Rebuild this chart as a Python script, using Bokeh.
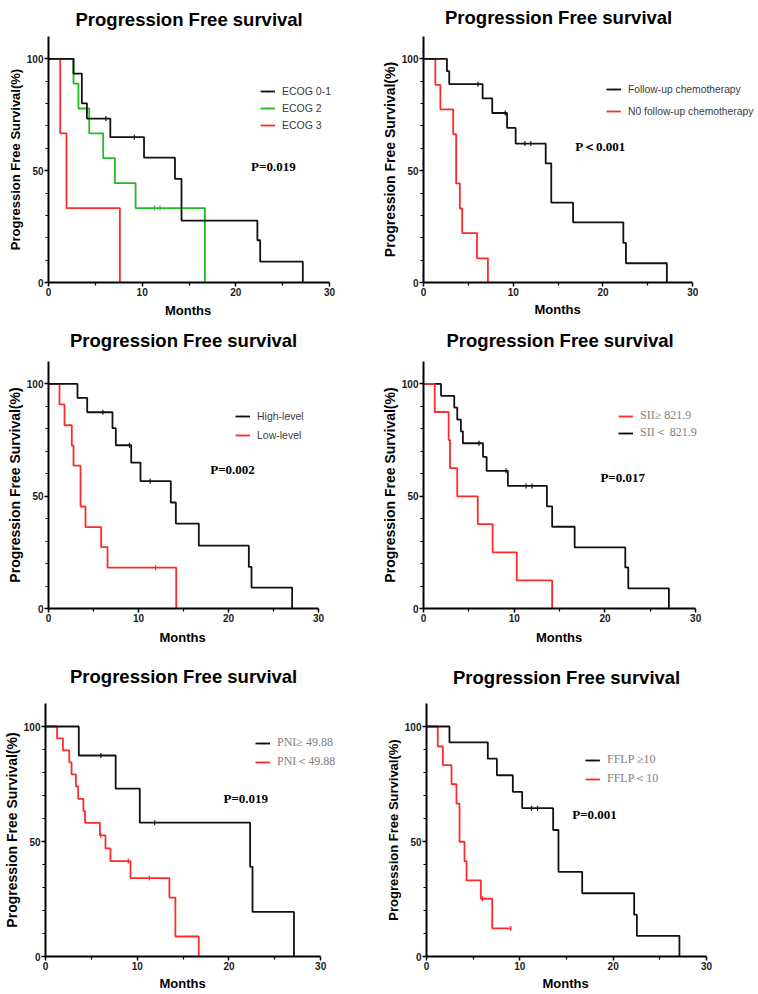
import numpy as np
from bokeh.plotting import figure
from bokeh.models import Range1d, FixedTicker, Legend, LegendItem, Label, ColumnDataSource, Title
from bokeh.layouts import row, column
from bokeh.embed import file_html
from bokeh.resources import INLINE

# ---------------- texts / ticks ----------------
TITLE = "Progression Free survival"
X_LABEL = "Months"
Y_LABEL = "Progression Free Survival(%)"
X_TICKS = [0, 10, 20, 30]
X_MINOR = [5, 15, 25]
Y_TICKS = [0, 50, 100]
Y_MINOR = [10, 20, 30, 40, 60, 70, 80, 90]
X_MAX = 30
Y_MAX = 110

# ---------------- panel 1 : ECOG ----------------
ecog01_t = [0, 2.67, 3.56, 4.10, 6.60, 10.20, 13.50, 14.20, 22.30, 22.60, 27.15]
ecog01_s = [100, 93.4, 80.1, 73.3, 65.0, 55.8, 46.3, 27.7, 18.9, 9.3, 0]
ecog01_ct = [6.13, 9.16]
ecog01_cs = [73.3, 65.0]
ecog2_t = [0, 2.67, 3.20, 4.35, 5.84, 7.09, 9.30, 16.70]
ecog2_s = [100, 88.9, 77.8, 66.7, 55.6, 44.4, 33.3, 0]
ecog2_ct = [11.30, 11.90]
ecog2_cs = [33.3, 33.3]
ecog3_t = [0, 1.25, 1.92, 7.62]
ecog3_s = [100, 66.7, 33.3, 0]
ecog3_ct = []
ecog3_cs = []
p1_value = "P=0.019"

# ---------------- panel 2 : follow-up chemotherapy ----------------
fu_t = [0, 2.61, 2.87, 6.59, 7.66, 9.31, 10.27, 13.62, 14.24, 16.67, 22.27, 22.56, 27.12]
fu_s = [100, 94.5, 88.7, 82.3, 75.8, 69.1, 62.1, 53.3, 35.7, 26.9, 17.7, 8.6, 0]
fu_ct = [6.07, 9.10, 11.30, 11.96]
fu_cs = [88.7, 75.8, 62.1, 62.1]
nofu_t = [0, 1.32, 1.88, 3.31, 3.64, 4.05, 4.31, 5.96, 7.18]
nofu_s = [100, 88.4, 77.4, 66.3, 44.3, 33.1, 22.1, 10.8, 0]
nofu_ct = []
nofu_cs = []
p2_value = "P＜0.001"

# ---------------- panel 3 : high / low level ----------------
high_t = [0, 3.22, 4.30, 7.11, 7.48, 9.19, 10.22, 13.59, 14.15, 16.70, 22.26, 22.56, 27.07]
high_s = [100, 93.8, 87.4, 80.3, 72.7, 65.0, 56.7, 47.2, 37.8, 28.0, 18.5, 9.3, 0]
high_ct = [6.04, 9.00, 11.30]
high_cs = [87.4, 72.7, 56.7]
low_t = [0, 1.22, 1.78, 2.59, 2.78, 3.56, 4.11, 5.85, 6.56, 14.19]
low_s = [100, 90.9, 81.6, 72.6, 63.6, 45.4, 36.2, 27.3, 18.2, 0]
low_ct = [11.90]
low_cs = [18.2]
p3_value = "P=0.002"

# ---------------- panel 4 : SII ----------------
siihi_t = [0, 1.24, 2.77, 2.92, 3.72, 5.98, 7.62, 10.28, 14.18]
siihi_s = [100, 87.5, 75.0, 62.5, 49.9, 37.6, 25.0, 12.5, 0]
siihi_ct = []
siihi_cs = []
siilo_t = [0, 1.93, 3.39, 3.72, 4.12, 4.34, 6.56, 6.96, 9.30, 13.60, 14.18, 16.66, 22.24, 22.57, 27.05]
siilo_s = [100, 94.7, 89.5, 84.1, 78.9, 73.6, 67.5, 61.3, 54.6, 45.5, 36.4, 27.2, 18.3, 9.0, 0]
siilo_ct = [6.12, 9.10, 11.30, 11.96]
siilo_cs = [73.6, 61.3, 54.6, 54.6]
p4_value = "P=0.017"

# ---------------- panel 5 : PNI ----------------
pnihi_t = [0, 3.63, 7.65, 10.28, 22.31, 22.57, 27.09]
pnihi_s = [100, 87.4, 73.0, 58.2, 39.0, 19.4, 0]
pnihi_ct = [6.04, 11.90]
pnihi_cs = [87.4, 58.2]
pnilo_t = [0, 1.26, 1.90, 2.59, 2.84, 3.31, 3.56, 4.13, 4.31, 5.93, 6.54, 7.08, 9.27, 13.51, 14.16, 16.71]
pnilo_s = [100, 94.8, 89.6, 84.4, 79.2, 74.0, 68.5, 63.3, 58.1, 52.7, 47.0, 41.5, 34.1, 25.6, 8.7, 0]
pnilo_ct = [6.04, 9.02, 11.32]
pnilo_cs = [52.7, 41.5, 34.1]
p5_value = "P=0.019"

# ---------------- panel 6 : FFLP ----------------
fflphi_t = [0, 2.46, 6.57, 7.54, 9.25, 10.25, 13.57, 14.14, 16.68, 22.25, 22.54, 27.10]
fflphi_s = [100, 93.1, 86.0, 78.8, 71.6, 64.5, 55.0, 36.8, 27.5, 18.2, 9.0, 0]
fflphi_ct = [11.25, 11.90]
fflphi_cs = [64.5, 64.5]
fflplo_t = [0, 1.21, 1.75, 2.68, 3.21, 3.54, 4.07, 4.29, 5.82, 7.04, 9.04]
fflplo_s = [100, 91.3, 83.2, 74.9, 66.5, 49.9, 41.5, 33.1, 25.1, 12.2, 12.2]
fflplo_ct = [6.00, 9.04]
fflplo_cs = [25.1, 12.2]
p6_value = "P=0.001"

# ---------------- styles ----------------
BLACK = "#111111"
RED = "#ff2a2a"
GREEN = "#22bb22"
SANS = "Liberation Sans"
SERIF = "Liberation Serif"
TITLE_W = 227      # rendered width of the title text (px)
MONTHS_W = 48      # rendered width of the x label (px)


def ser(label, t, s, ct, cs, color):
    return dict(label=label, t=t, s=s, ct=ct, cs=cs, color=color)


def make_panel(series, p_text, g):
    br = 0
    fh = g["h"] - g["bt"] - g["bb"]
    ftot = g["w"] - g["bl"] - br
    fw = g["fw"]
    x_end = X_MAX * ftot / fw
    p = figure(width=g["w"], height=g["h"], x_range=Range1d(0, x_end), y_range=Range1d(0, Y_MAX),
               output_backend="svg", toolbar_location=None,
               min_border_left=g["bl"], min_border_right=br,
               min_border_top=g["bt"], min_border_bottom=g["bb"])
    p.outline_line_color = None
    p.grid.visible = False
    p.background_fill_color = "white"
    p.border_fill_color = "white"

    p.title = Title(text=TITLE, align="left", offset=fw / 2 - TITLE_W / 2,
                    vertical_align="top", standoff=max(0, g["bt"] - 23),
                    text_font=SANS, text_font_style="bold", text_font_size="18.5px",
                    text_color="black")

    for ax, ticks, minor in ((p.xaxis[0], X_TICKS, X_MINOR), (p.yaxis[0], Y_TICKS, Y_MINOR)):
        ax.ticker = FixedTicker(ticks=ticks, minor_ticks=minor)
        ax.axis_line_width = 2
        ax.axis_line_color = "black"
        ax.major_tick_in = 0
        ax.major_tick_out = 4
        ax.major_tick_line_width = 1.5
        ax.minor_tick_in = 0
        ax.minor_tick_out = 3
        ax.minor_tick_line_width = 1.2
        ax.major_label_text_font = SANS
        ax.major_label_text_font_style = "bold"
        ax.major_label_text_font_size = "10px"
        ax.major_label_text_color = "#1a1a1a"
        ax.major_label_standoff = 1
    p.xaxis.bounds = (0, X_MAX)
    p.yaxis.bounds = (0, Y_MAX)
    p.yaxis.axis_label = Y_LABEL
    p.yaxis.axis_label_text_font = SANS
    p.yaxis.axis_label_text_font_style = "bold"
    p.yaxis.axis_label_text_color = "black"
    p.yaxis.axis_label_text_font_size = g["yls"]
    p.yaxis.axis_label_standoff = 1

    p.add_layout(Title(text=X_LABEL, align="left", offset=fw / 2 - MONTHS_W / 2,
                       vertical_align="bottom", standoff=min(6, max(1, g["bb"] - 34)),
                       text_font=SANS, text_font_style="bold", text_font_size="13px",
                       text_color="black"), "below")

    rend = {}
    for s in reversed(series):
        src = ColumnDataSource(dict(t=s["t"], s=s["s"]))
        r1 = p.step(x="t", y="s", source=src, mode="after", line_color=s["color"], line_width=1.8)
        csrc = ColumnDataSource(dict(t=s["ct"], s=s["cs"]))
        r2 = p.scatter(x="t", y="s", source=csrc, marker="dash", angle=np.pi / 2, size=5,
                       line_color=s["color"], line_width=1.2)
        rend[s["label"]] = [r1, r2]
    items = [LegendItem(label=s["label"], renderers=rend[s["label"]]) for s in series]

    rh = g["lrow"]
    n = len(series)
    spacing = int(round(g["pitch"] - rh))
    L = n * rh + (n - 1) * spacing
    loc_y = int(round(fh - (g["ldy"] - rh / 2) - L))
    leg = Legend(items=items, location=(int(round(g["ldx"])), loc_y), padding=0, margin=0,
                 spacing=spacing, glyph_width=15, glyph_height=rh, label_height=rh,
                 label_standoff=7, border_line_color=None, background_fill_alpha=0,
                 label_text_font=g["lfont"], label_text_font_size=g["lsize"],
                 label_text_color=g["lcolor"])
    p.add_layout(leg)

    p.add_layout(Label(x=g["px"], y=g["py"], text=p_text, text_font=SERIF,
                       text_font_style="bold", text_font_size="13px", text_color="black",
                       text_align="left", text_baseline="middle"))
    return p


p1 = make_panel([ser("ECOG 0-1", ecog01_t, ecog01_s, ecog01_ct, ecog01_cs, BLACK),
                 ser("ECOG 2", ecog2_t, ecog2_s, ecog2_ct, ecog2_cs, GREEN),
                 ser("ECOG 3", ecog3_t, ecog3_s, ecog3_ct, ecog3_cs, RED)], p1_value,
                dict(w=378, h=320, bl=48, fw=281, bt=33, bb=38, ldx=211.6, ldy=58.3, pitch=17,
                     lrow=14, px=21.63, py=51.8, yls="13px", lfont=SANS, lsize="10.5px", lcolor="#3a3a3a"))

p2 = make_panel([ser("Follow-up chemotherapy", fu_t, fu_s, fu_ct, fu_cs, BLACK),
                 ser("N0 follow-up chemotherapy", nofu_t, nofu_s, nofu_ct, nofu_cs, RED)], p2_value,
                dict(w=378, h=320, bl=44, fw=270, bt=36, bb=37, ldx=182.7, ldy=54.2, pitch=22.3,
                     lrow=14, px=16.9, py=60.6, yls="14px", lfont=SANS, lsize="10.3px", lcolor="#3a3a3a"))

p3 = make_panel([ser("High-level", high_t, high_s, high_ct, high_cs, BLACK),
                 ser("Low-level", low_t, low_s, low_ct, low_cs, RED)], p3_value,
                dict(w=378, h=330, bl=48, fw=270, bt=41, bb=42, ldx=186.7, ldy=55.2, pitch=19,
                     lrow=14, px=17.97, py=62.0, yls="14px", lfont=SANS, lsize="10.5px", lcolor="#3a3a3a"))

p4 = make_panel([ser("SII≥ 821.9", siihi_t, siihi_s, siihi_ct, siihi_cs, RED),
                 ser("SII＜ 821.9", siilo_t, siilo_s, siilo_ct, siilo_cs, BLACK)], p4_value,
                dict(w=378, h=330, bl=44, fw=273, bt=40, bb=41, ldx=194.7, ldy=60.3, pitch=15,
                     lrow=14, px=19.5, py=58.3, yls="14px", lfont=SERIF, lsize="12px", lcolor="#808080"))

p5 = make_panel([ser("PNI≥ 49.88", pnihi_t, pnihi_s, pnihi_ct, pnihi_cs, BLACK),
                 ser("PNI＜49.88", pnilo_t, pnilo_s, pnilo_ct, pnilo_cs, RED)], p5_value,
                dict(w=378, h=342, bl=44, fw=276, bt=53, bb=36, ldx=210, ldy=43.1, pitch=17.3,
                     lrow=14, px=19.4, py=68.7, yls="14px", lfont=SERIF, lsize="12px", lcolor="#808080"))

p6 = make_panel([ser("FFLP ≥10", fflphi_t, fflphi_s, fflphi_ct, fflphi_cs, BLACK),
                 ser("FFLP＜10", fflplo_t, fflplo_s, fflplo_ct, fflplo_cs, RED)], p6_value,
                dict(w=378, h=342, bl=48, fw=280, bt=51, bb=36, ldx=158.7, ldy=62, pitch=17.3,
                     lrow=14, px=15.61, py=61.9, yls="13px", lfont=SERIF, lsize="12px", lcolor="#808080"))

layout = column(row(p1, p2), row(p3, p4), row(p5, p6))
open("out.html", "w").write(file_html(layout, INLINE))
